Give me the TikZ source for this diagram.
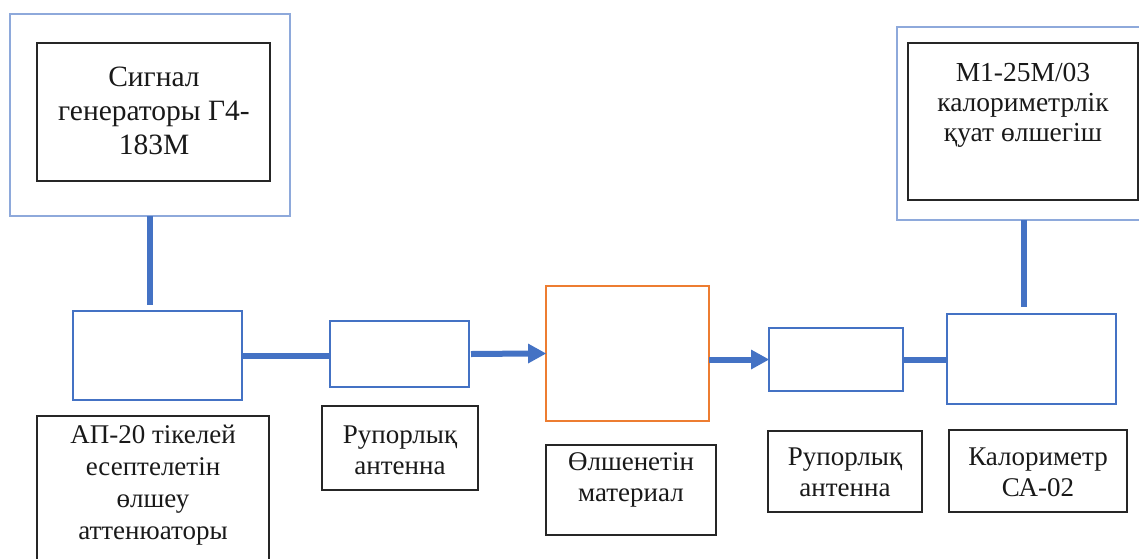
\documentclass[tikz,border=0pt]{standalone}
\usepackage{fontspec}
\setmainfont{Liberation Serif}
\definecolor{bl}{HTML}{4472C4}
\definecolor{lbl}{HTML}{8EA9DB}
\definecolor{orng}{HTML}{ED7D31}
\begin{document}
\begin{tikzpicture}[x=1pt,y=-1pt,
  box/.style={draw, rectangle, inner sep=0pt, outer sep=0pt, line width=1.3pt},
  bbox/.style={box, draw=bl},
  obox/.style={box, draw=lbl},
  kbox/.style={box, draw=black!85},
  txt/.style={align=center, inner sep=0pt, text=black!90, font=\fontsize{27}{31}\selectfont},
  conn/.style={draw=bl, line width=6pt},
  headtip/.style={fill=bl}
]
\useasboundingbox (0,0) rectangle (1139,558);
% top boxes
\node[obox, minimum width=280pt, minimum height=202pt] (outer1) at (150,115) {};
\node[kbox, minimum width=233pt, minimum height=138pt] (inner1) at (153.5,112) {};
\node[txt, font=\fontsize{29.5}{34}\selectfont] (t1) at (154,111) {Сигнал\\генераторы Г4-\\183М};
\node[obox, minimum width=253pt, minimum height=193pt] (outer2) at (1023.5,123.5) {};
\node[kbox, minimum width=230pt, minimum height=157pt] (inner2) at (1023,121.5) {};
\node[txt, font=\fontsize{27.5}{30}\selectfont] (t2) at (1023,105) {М1-25М/03\\калориметрлік\\қуат өлшегіш};
% middle row
\node[bbox, minimum width=169pt, minimum height=89pt] (ap) at (157.5,355.5) {};
\node[bbox, minimum width=139pt, minimum height=66pt] (rup1) at (399.5,354) {};
\node[box, draw=orng, minimum width=163pt, minimum height=135pt] (mat) at (627.5,353.5) {};
\node[bbox, minimum width=134pt, minimum height=63pt] (rup2) at (836,359.5) {};
\node[bbox, minimum width=169pt, minimum height=90pt] (cal) at (1031.5,359) {};
% labels
\node[kbox, minimum width=232pt, minimum height=164pt] (apL) at (153,498) {};
\node[txt, font=\fontsize{27}{32}\selectfont] (apT) at (153,485) {АП-20 тікелей\\есептелетін\\өлшеу\\аттенюаторы};
\node[kbox, minimum width=156pt, minimum height=84pt] (rup1L) at (400,448) {};
\node[txt] (rup1T) at (400,450) {Рупорлық\\антенна};
\node[kbox, minimum width=170pt, minimum height=90pt] (matL) at (631,490) {};
\node[txt] (matT) at (631,480) {Өлшенетін\\материал};
\node[kbox, minimum width=154pt, minimum height=81pt] (rup2L) at (845,471.5) {};
\node[txt] (rup2T) at (845,472) {Рупорлық\\антенна};
\node[kbox, minimum width=178pt, minimum height=82pt] (calL) at (1038,471) {};
\node[txt] (calT) at (1038,472) {Калориметр\\СА-02};
% connectors
\draw[conn] (outer1.south) -- ([yshift=6pt]ap.north -| outer1.south);
\draw[conn] (outer2.south) -- ([yshift=7pt]cal.north -| outer2.south);
\draw[conn] (ap.east) -- (ap.east -| rup1.west);
\draw[conn] ([xshift=2pt]rup1.east) -- ([xshift=-15pt]mat.west);
\fill[headtip] (mat.west) -- ++(-18,-10) -- ++(0,20) -- cycle;
\coordinate (a2s) at (rup2.west -| mat.east);
\draw[conn] (a2s) -- ([xshift=-15pt]rup2.west);
\fill[headtip] (rup2.west) -- ++(-18,-10) -- ++(0,20) -- cycle;
\draw[conn] (rup2.east) -- (rup2.east -| cal.west);
\end{tikzpicture}
\end{document}
